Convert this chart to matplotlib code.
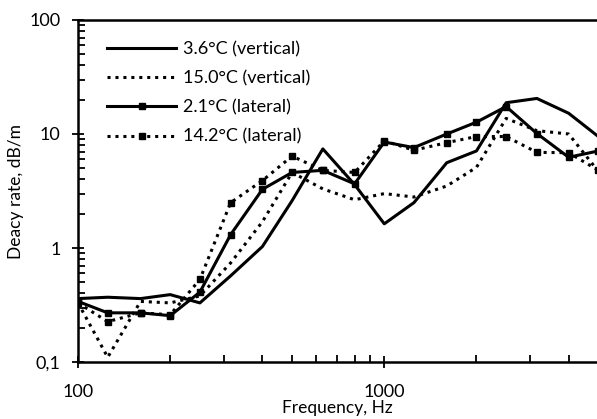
import numpy as np
import matplotlib
matplotlib.use("Agg")
from matplotlib import pyplot as plt
from matplotlib.ticker import LogLocator, FixedLocator, NullFormatter

plt.rcParams['font.family'] = ['Lato', 'DejaVu Sans']

# 1/3-octave band centre frequencies [Hz]
freq = [100, 125, 160, 200, 250, 315, 400, 500, 630, 800,
        1000, 1250, 1600, 2000, 2500, 3150, 4000, 5000]

# decay rates [dB/m]
vert_3_6 = [0.36, 0.37, 0.36, 0.39, 0.33, 0.57, 1.03, 2.6, 7.4, 3.6,
            1.63, 2.5, 5.6, 7.1, 18.8, 20.5, 15.2, 9.5]
vert_15_0 = [0.33, 0.11, 0.34, 0.33, 0.38, 0.74, 1.7, 4.6, 3.3, 2.65,
             3.0, 2.8, 3.5, 5.1, 13.7, 10.7, 10.0, 4.7]
lat_2_1 = [0.34, 0.27, 0.27, 0.255, 0.41, 1.31, 3.27, 4.6, 4.8, 3.65,
           8.5, 7.6, 10.0, 12.7, 17.4, 10.1, 6.25, 7.1]
lat_14_2 = [0.33, 0.226, 0.27, 0.26, 0.53, 2.5, 3.9, 6.4, 4.8, 4.6,
            8.7, 7.2, 8.4, 9.5, 9.5, 6.9, 6.85, 4.8]

fig = plt.figure(figsize=(5.97, 4.19), dpi=100)
ax = fig.add_axes([0.1307, 0.136, 0.8693, 0.8163])

dot = (0, (1, 1.6))
ax.plot(freq, vert_3_6, color='black', lw=2.2, label='3.6°C (vertical)')
ax.plot(freq, vert_15_0, color='black', lw=2.2, ls=dot, label='15.0°C (vertical)')
ax.plot(freq, lat_2_1, color='black', lw=2.2, marker='s', ms=5,
        label='2.1°C (lateral)')
ax.plot(freq, lat_14_2, color='black', lw=2.2, ls=dot, marker='s', ms=5,
        label='14.2°C (lateral)')

ax.set_xscale('log')
ax.set_yscale('log')
ax.set_xlim(100, 4950)
ax.set_ylim(0.1, 100)

ax.xaxis.set_major_locator(FixedLocator([100, 1000]))
ax.xaxis.set_minor_locator(LogLocator(base=10, subs=np.arange(2, 10)))
ax.xaxis.set_minor_formatter(NullFormatter())
ax.set_xticklabels(['100', '1000'])
ax.yaxis.set_major_locator(FixedLocator([0.1, 1, 10, 100]))
ax.yaxis.set_minor_locator(LogLocator(base=10, subs=np.arange(2, 10)))
ax.yaxis.set_minor_formatter(NullFormatter())
ax.set_yticklabels(['0,1', '1', '10', '100'])

ax.tick_params(which='major', direction='inout', length=9, width=1.3,
               labelsize=13)
ax.tick_params(axis='y', which='major', pad=8)
ax.tick_params(axis='x', which='major', pad=11)
ax.tick_params(which='minor', direction='in', length=5, width=1.3)

for s in ['left', 'bottom', 'top']:
    ax.spines[s].set_linewidth(1.8)
ax.spines['right'].set_visible(False)

ax.set_xlabel('Frequency, Hz', fontsize=12.5, labelpad=0)
ax.set_ylabel('Deacy rate, dB/m', fontsize=12.5, labelpad=4)

ax.legend(loc='upper left', bbox_to_anchor=(0.025, 0.985), frameon=False,
          fontsize=13, handlelength=3.8, numpoints=1, labelspacing=0.72,
          handletextpad=0.4)

fig.savefig('out.png', dpi=100)
